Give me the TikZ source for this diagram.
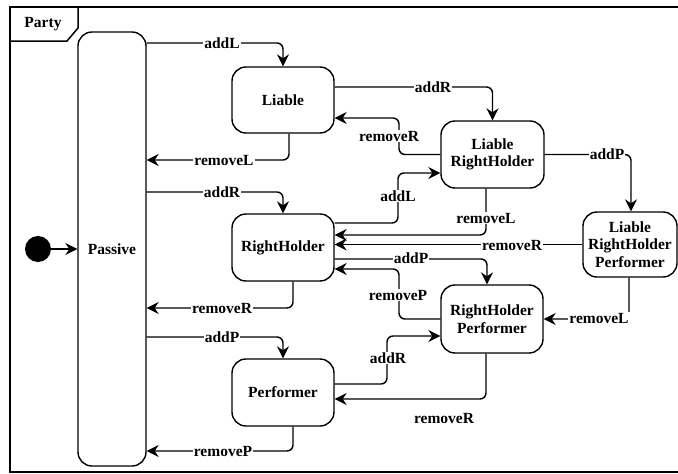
\documentclass[tikz,border=0pt]{standalone}
\usepackage{fontspec}
\setmainfont{Liberation Serif}
\newfontfamily\diagfont{Liberation Serif}[BoldFont={Liberation Serif Bold}]
\usetikzlibrary{arrows.meta}

\tikzset{
  txt/.style={font=\diagfont\fontsize{15.5}{17.5}\selectfont\bfseries},
  state/.style={draw, line width=1.4pt, rounded corners=14pt, align=center,
    inner sep=0pt, txt},
  edge/.style={line width=1.4pt, rounded corners=6pt,
    -{Stealth[length=12pt,width=12pt,inset=4pt]}},
  lbl/.style={fill=white, inner sep=1pt, txt},
}

\begin{document}
\begin{tikzpicture}[x=1pt,y=-1pt]
  \clip (0,0) rectangle (678,474);
  \fill[white] (0,0) rectangle (678,474);

  % enclosing frame with its name tab
  \draw[line width=1.5pt] (10,7) rectangle (690,472);
  \draw[line width=1.5pt] (10,41) -- (67,41) -- (78,28) -- (78,7);
  \node[txt] (title) at (43,24) {Party};

  % states
  \node[state, minimum width=68pt, minimum height=434pt] (passive) at (112,249) {Passive};
  \node[state, minimum width=102pt, minimum height=66pt] (liable) at (283,100) {Liable};
  \node[state, minimum width=102pt, minimum height=67pt] (rh) at (283,247.5) {RightHolder};
  \node[state, minimum width=102pt, minimum height=67pt] (perf) at (283,392.5) {Performer};
  \node[state, minimum width=103pt, minimum height=67pt] (lrh) at (492.5,154.5) {Liable\\RightHolder};
  \node[state, minimum width=94pt, minimum height=65pt] (lrp) at (630,244.5) {Liable\\RightHolder\\Performer};
  \node[state, minimum width=102pt, minimum height=68pt] (rhp) at (492,319) {RightHolder\\Performer};

  % initial pseudo-state
  \node[circle, fill=black, minimum size=26pt, inner sep=0pt] (init) at (38,249) {};
  \draw[edge] (init) -- (passive.west |- init);

  % transitions to and from Passive
  \draw[edge] (passive.east |- 0,43) -| (liable.north);
  \draw[edge] (289,0 |- liable.south) |- (passive.east |- 0,160);
  \draw[edge] (passive.east |- 0,192) -| (rh.north);
  \draw[edge] (293,0 |- rh.south) |- (passive.east |- 0,308);
  \draw[edge] (passive.east |- 0,337) -| (perf.north);
  \draw[edge] (293,0 |- perf.south) |- (passive.east |- 0,451);

  % transitions among the combined states
  \draw[edge] (liable.east |- 0,87) -| (lrh.north);
  \draw[edge] (lrh.west) -| (399,118) -- (liable.east |- 0,118);
  \draw[edge] (rh.east |- 0,223) -| (398,173) -- (lrh.west |- 0,173);
  \draw[edge] (486,0 |- lrh.south) |- (rh.east |- 0,235);
  \draw[edge] (lrp.west) -- (rh.east |- lrp.west);
  \draw[edge] (rh.east |- 0,259) -| (487,0 |- rhp.north);
  \draw[edge] (rhp.west) -| (399,269) -- (rh.east |- 0,269);
  \draw[edge] (lrh.east) -| (631,0 |- lrp.north);
  \draw[edge] (629,0 |- lrp.south) |- (rhp.east);
  \draw[edge] (perf.east |- 0,384) -| (387,336) -- (rhp.west |- 0,336);
  \draw[edge] (486,0 |- rhp.south) |- (perf.east |- 0,399);

  % transition labels
  \node[lbl] (t1) at (222,43) {addL};
  \node[lbl] (t2) at (224,160) {removeL};
  \node[lbl] (t3) at (222,192) {addR};
  \node[lbl] (t4) at (222,308) {removeR};
  \node[lbl] (t5) at (222,337) {addP};
  \node[lbl] (t6) at (223,451) {removeP};
  \node[lbl] (t7) at (433,87) {addR};
  \node[lbl] (t8) at (389,136) {removeR};
  \node[lbl] (t9) at (398,196) {addL};
  \node[lbl] (t10) at (486,218) {removeL};
  \node[lbl] (t11) at (512,245) {removeR};
  \node[lbl] (t12) at (411,258) {addP};
  \node[lbl] (t13) at (398,295) {removeP};
  \node[lbl] (t14) at (607,154) {addP};
  \node[lbl] (t15) at (599,318) {removeL};
  \node[lbl] (t16) at (388,358) {addR};
  \node[lbl] (t17) at (444,418) {removeR};
\end{tikzpicture}
\end{document}
